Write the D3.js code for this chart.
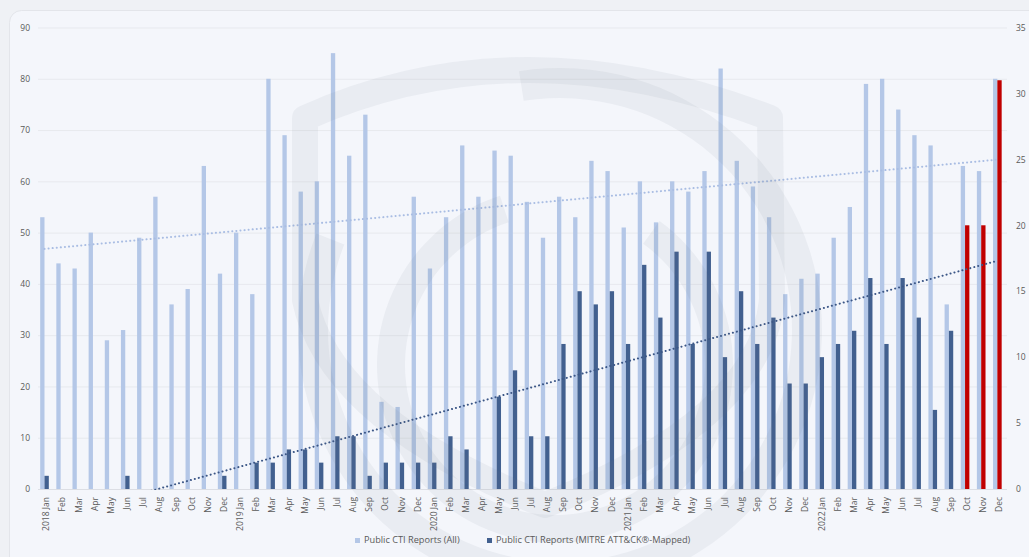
<!DOCTYPE html>
<html>
<head>
<meta charset="utf-8">
<script src="https://cdn.jsdelivr.net/npm/d3@7"></script>
<style>
  html, body { margin: 0; padding: 0; background: #eef0f4; }
  svg { display: block; }
  text { font-family: "Open Sans", "Noto Sans", sans-serif; fill: #595959; }
</style>
</head>
<body>
<svg id="chart" width="1029" height="557"></svg>
<script>
// ---- data ----
const years = [2018, 2019, 2020, 2021, 2022];
const monthNames = ["Jan","Feb","Mar","Apr","May","Jun","Jul","Aug","Sep","Oct","Nov","Dec"];
const allReports = [
  53,44,43,50,29,31,49,57,36,39,63,42,
  50,38,80,69,58,60,85,65,73,17,16,57,
  43,53,67,57,66,65,56,49,57,53,64,62,
  51,60,52,60,58,62,82,64,59,53,38,41,
  42,49,55,79,80,74,69,67,36,63,62,80
];
const mappedReports = [
  1,0,0,0,0,1,0,0,0,0,0,1,
  0,2,2,3,3,2,4,4,1,2,2,2,
  2,4,3,0,7,9,4,4,11,15,14,15,
  11,17,13,18,11,18,10,15,11,13,8,8,
  10,11,12,16,11,16,13,6,12,20,20,31
];
const highlighted = ["2022 Oct", "2022 Nov", "2022 Dec"];
const leftTicks = [0,10,20,30,40,50,60,70,80,90];
const rightTicks = [0,5,10,15,20,25,30,35];
const seriesNames = ["Public CTI Reports (All)", "Public CTI Reports (MITRE ATT&CK®-Mapped)"];

const months = [];
years.forEach(y => monthNames.forEach(m => months.push(y + " " + m)));
const labelOf = k => k.endsWith("Jan") ? k : k.split(" ")[1];

// ---- layout ----
const svg = d3.select("#chart");
const W = 1029, H = 557;
const plot = { left: 38, right: 1007, top: 27.5, bottom: 489 };

const colors = { all: "#b4c7e7", mapped: "#42608f", hi: "#c00000",
                 trendAll: "#a9bde3", trendMapped: "#3b5686" };

// card
svg.append("rect").attr("x", 0).attr("y", 0).attr("width", W).attr("height", H).attr("fill", "#eff1f5");
svg.append("rect").attr("x", 9.5).attr("y", 10.5).attr("width", W + 20).attr("height", H + 20)
  .attr("rx", 12).attr("fill", "#f4f6fb").attr("stroke", "#e3e5ea");

const x = d3.scaleBand().domain(months).range([plot.left, plot.right]).paddingInner(0).paddingOuter(0);
const bw = x.bandwidth();
const xs = d3.scaleBand().domain(["all", "mapped"]).range([bw * 0.135, bw * 0.67]).padding(0);
const yL = d3.scaleLinear().domain([0, 90]).range([plot.bottom, plot.top]);
const yR = d3.scaleLinear().domain([0, 35]).range([plot.bottom, plot.top]);

// gridlines
svg.append("g").selectAll("line").data(leftTicks).join("line")
  .attr("x1", plot.left).attr("x2", plot.right)
  .attr("y1", d => yL(d) + 0.5).attr("y2", d => yL(d) + 0.5)
  .attr("stroke", d => d === 0 ? "#dcdee4" : "#e7e9ee").attr("stroke-width", 1);

// axes (labels only)
const axL = svg.append("g").attr("transform", `translate(${plot.left - 8},0)`)
  .call(d3.axisLeft(yL).tickValues(leftTicks).tickSize(0).tickPadding(0));
axL.select(".domain").remove();
axL.selectAll("text").attr("font-size", 8.5).attr("fill", "#666").style("font-family", "Open Sans");

const axR = svg.append("g").attr("transform", `translate(${plot.right + 9},0)`)
  .call(d3.axisRight(yR).tickValues(rightTicks).tickSize(0).tickPadding(0));
axR.select(".domain").remove();
axR.selectAll("text").attr("font-size", 8.5).attr("fill", "#666").style("font-family", "Open Sans");

const axB = svg.append("g").attr("transform", `translate(0,${plot.bottom})`)
  .call(d3.axisBottom(x).tickSize(0).tickFormat(labelOf));
axB.select(".domain").remove();
axB.selectAll("text")
  .attr("font-size", 8.5).attr("fill", "#666").style("font-family", "Open Sans")
  .attr("text-anchor", "end")
  .attr("dy", null).attr("y", 0)
  .attr("dominant-baseline", "middle")
  .attr("transform", `translate(${-bw / 2 + bw * 0.56},8) rotate(-90)`);

// bars
const gBars = svg.append("g");
gBars.selectAll("rect.all").data(months).join("rect").attr("class", "all")
  .attr("x", k => x(k) + xs("all")).attr("width", xs.bandwidth())
  .attr("y", (k, i) => yL(allReports[i])).attr("height", (k, i) => yL(0) - yL(allReports[i]))
  .attr("fill", colors.all);
gBars.selectAll("rect.mapped").data(months).join("rect").attr("class", "mapped")
  .attr("x", k => x(k) + xs("mapped")).attr("width", xs.bandwidth())
  .attr("y", (k, i) => yR(mappedReports[i])).attr("height", (k, i) => yR(0) - yR(mappedReports[i]))
  .attr("fill", k => highlighted.includes(k) ? colors.hi : colors.mapped);

// trend lines (least-squares linear fit)
function fit(vals) {
  const n = vals.length, xm = (n - 1) / 2, ym = d3.mean(vals);
  let sxy = 0, sxx = 0;
  vals.forEach((v, i) => { sxy += (i - xm) * (v - ym); sxx += (i - xm) * (i - xm); });
  const b = sxy / sxx;
  return i => ym + b * (i - xm);
}
svg.append("clipPath").attr("id", "plotclip").append("rect")
  .attr("x", plot.left).attr("y", plot.top).attr("width", plot.right - plot.left).attr("height", plot.bottom - plot.top + 1);
const cx = k => x(k) + bw * 0.4;
const fAll = fit(allReports), fMap = fit(mappedReports);
const ends = [months[0], months[months.length - 1]];
const idx = k => months.indexOf(k);
const gTrend = svg.append("g").attr("clip-path", "url(#plotclip)");
gTrend.append("path")
  .attr("d", d3.line().x(cx).y(k => yL(fAll(idx(k))))(ends))
  .attr("stroke", colors.trendAll).attr("stroke-width", 2).attr("fill", "none")
  .attr("stroke-dasharray", "0.1 4").attr("stroke-linecap", "round");
gTrend.append("path")
  .attr("d", d3.line().x(cx).y(k => yR(fMap(idx(k))))(ends))
  .attr("stroke", colors.trendMapped).attr("stroke-width", 2).attr("fill", "none")
  .attr("stroke-dasharray", "0.1 4").attr("stroke-linecap", "round");

// watermark (faint logo shapes on top)
const wm = svg.append("g").attr("fill", "none").attr("stroke", "#6e7385").attr("stroke-opacity", 0.075);
wm.append("path")
  .attr("d", "M 305 118 Q 520 22 770 118 L 772 300 Q 760 420 545 505 Q 330 420 305 300 Z")
  .attr("stroke-width", 26).attr("stroke-linejoin", "round");
const arc = d3.arc();
wm.append("path").attr("transform", "translate(560,330)")
  .attr("d", arc({ innerRadius: 232, outerRadius: 262, startAngle: -Math.PI * 0.05, endAngle: Math.PI * 1.62 }))
  .attr("fill", "#6e7385").attr("fill-opacity", 0.075).attr("stroke", "none");
wm.append("path").attr("transform", "translate(555,365)")
  .attr("d", arc({ innerRadius: 150, outerRadius: 178, startAngle: Math.PI * 0.2, endAngle: Math.PI * 1.9 }))
  .attr("fill", "#6e7385").attr("fill-opacity", 0.075).attr("stroke", "none");

// legend
const legend = svg.append("g").attr("transform", "translate(0,541)");
const legendItems = [
  { name: seriesNames[0], color: colors.all, x: 355 },
  { name: seriesNames[1], color: colors.mapped, x: 487 }
];
legendItems.forEach(it => {
  legend.append("rect").attr("x", it.x).attr("y", -3).attr("width", 5).attr("height", 5).attr("fill", it.color);
  legend.append("text").attr("x", it.x + 9).attr("y", 0).attr("dominant-baseline", "middle")
    .attr("font-size", 9.2).attr("fill", "#595959").text(it.name);
});
</script>
</body>
</html>
